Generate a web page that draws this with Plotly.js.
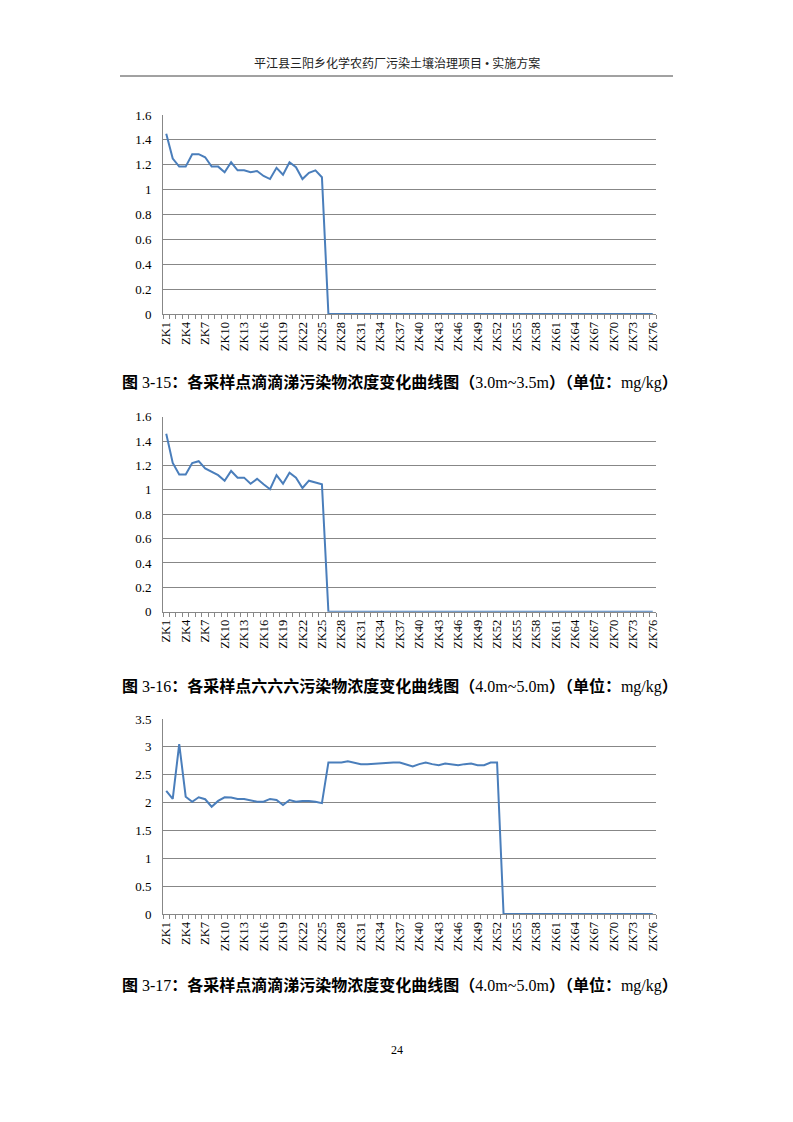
<!DOCTYPE html>
<html>
<head>
<meta charset="utf-8">
<script src="https://cdn.plot.ly/plotly-3.0.1.min.js"></script>
<style>html,body{margin:0;padding:0;background:#fff;}#chart{width:793px;height:1122px;}</style>
</head>
<body>
<div id="chart"></div>
<script>
const categories = ["ZK1","ZK2","ZK3","ZK4","ZK5","ZK6","ZK7","ZK8","ZK9","ZK10",
"ZK11","ZK12","ZK13","ZK14","ZK15","ZK16","ZK17","ZK18","ZK19","ZK20",
"ZK21","ZK22","ZK23","ZK24","ZK25","ZK26","ZK27","ZK28","ZK29","ZK30",
"ZK31","ZK32","ZK33","ZK34","ZK35","ZK36","ZK37","ZK38","ZK39","ZK40",
"ZK41","ZK42","ZK43","ZK44","ZK45","ZK46","ZK47","ZK48","ZK49","ZK50",
"ZK51","ZK52","ZK53","ZK54","ZK55","ZK56","ZK57","ZK58","ZK59","ZK60",
"ZK61","ZK62","ZK63","ZK64","ZK65","ZK66","ZK67","ZK68","ZK69","ZK70",
"ZK71","ZK72","ZK73","ZK74","ZK75","ZK76"];

const tickLabels = ["ZK1","ZK4","ZK7","ZK10","ZK13","ZK16","ZK19","ZK22","ZK25","ZK28",
"ZK31","ZK34","ZK37","ZK40","ZK43","ZK46","ZK49","ZK52","ZK55","ZK58",
"ZK61","ZK64","ZK67","ZK70","ZK73","ZK76"];

// Fig 3-15: DDT 3.0m~3.5m
const ddt_3_0_3_5 = [1.45,1.25,1.185,1.185,1.285,1.285,1.26,1.185,1.185,1.14,
1.22,1.155,1.155,1.14,1.15,1.11,1.085,1.175,1.12,1.22,
1.18,1.085,1.135,1.155,1.10,0,0,0,0,0,
0,0,0,0,0,0,0,0,0,0,
0,0,0,0,0,0,0,0,0,0,
0,0,0,0,0,0,0,0,0,0,
0,0,0,0,0,0,0,0,0,0,
0,0,0,0,0,0];

// Fig 3-16: HCH 4.0m~5.0m
const hch_4_0_5_0 = [1.46,1.22,1.125,1.125,1.22,1.235,1.175,1.145,1.12,1.075,
1.155,1.10,1.10,1.05,1.09,1.045,1.005,1.12,1.05,1.14,
1.10,1.015,1.075,1.06,1.045,0,0,0,0,0,
0,0,0,0,0,0,0,0,0,0,
0,0,0,0,0,0,0,0,0,0,
0,0,0,0,0,0,0,0,0,0,
0,0,0,0,0,0,0,0,0,0,
0,0,0,0,0,0];

// Fig 3-17: DDT 4.0m~5.0m
const ddt_4_0_5_0 = [2.21,2.065,3.05,2.105,2.015,2.095,2.06,1.925,2.03,2.095,
2.09,2.065,2.065,2.045,2.015,2.015,2.065,2.045,1.955,2.045,
2.015,2.03,2.03,2.015,1.99,2.72,2.72,2.72,2.74,2.72,
2.69,2.69,2.70,2.70,2.72,2.72,2.72,2.69,2.65,2.69,
2.72,2.69,2.67,2.70,2.69,2.67,2.69,2.70,2.67,2.67,
2.72,2.72,0,0,0,0,0,0,0,0,
0,0,0,0,0,0,0,0,0,0,
0,0,0,0,0,0];

const yMax = [1.6, 1.6, 3.5];
const yStep = [0.2, 0.2, 0.5];

const headerText = "平江县三阳乡化学农药厂污染土壤治理项目 • 实施方案";
const captions = [
  "图 3-15：各采样点滴滴涕污染物浓度变化曲线图（3.0m~3.5m）（单位：mg/kg）",
  "图 3-16：各采样点六六六污染物浓度变化曲线图（4.0m~5.0m）（单位：mg/kg）",
  "图 3-17：各采样点滴滴涕污染物浓度变化曲线图（4.0m~5.0m）（单位：mg/kg）"
];
const pageNumber = "24";

const W = 793, H = 1122;
const series = [ddt_3_0_3_5, hch_4_0_5_0, ddt_4_0_5_0];
// plot area pixel boxes (top, bottom)
const boxes = [[115, 314], [416.7, 611.7], [719, 914]];
const xL = 163, xR = 656;
const capY = [383, 686, 985];

const ticktext = categories.map(c => tickLabels.includes(c) ? c : "");
const serif = "'Liberation Serif', 'Times New Roman', serif";
const grey = "#878787";

// CJK runs in bold (heiti look), Latin runs in regular serif
function styleCaption(s) {
  return s.replace(/([^\x00-\x7F]+)/g, "<b>$1</b>");
}

const data = [];
const layout = {
  width: W, height: H,
  margin: {l: 0, r: 0, t: 0, b: 0},
  paper_bgcolor: "#ffffff",
  plot_bgcolor: "rgba(0,0,0,0)",
  showlegend: false,
  annotations: [],
  shapes: []
};

series.forEach((vals, i) => {
  const n = i === 0 ? "" : String(i + 1);
  data.push({
    type: "scatter", mode: "lines",
    x: categories, y: vals,
    xaxis: "x" + n, yaxis: "y" + n,
    line: {color: "#4A7EBB", width: 2},
    cliponaxis: false,
    hoverinfo: "skip"
  });
  const [top, bot] = boxes[i];
  layout["xaxis" + n] = {
    anchor: "y" + n,
    domain: [xL / W, xR / W],
    type: "category",
    range: [-0.5, categories.length - 0.5],
    tickmode: "array",
    tickvals: categories,
    ticktext: ticktext,
    tickangle: -90,
    tickson: "boundaries",
    ticks: "outside",
    ticklen: 4,
    tickcolor: grey,
    tickwidth: 1,
    showline: true,
    linecolor: grey,
    linewidth: 1,
    showgrid: false,
    zeroline: false,
    ticklabelstandoff: 2,
    tickfont: {family: serif, size: 12.5, color: "#000"}
  };
  layout["yaxis" + n] = {
    anchor: "x" + n,
    domain: [1 - bot / H, 1 - top / H],
    range: [0, yMax[i]],
    dtick: yStep[i],
    tick0: 0,
    showgrid: true,
    gridcolor: grey,
    gridwidth: 1,
    showline: true,
    linecolor: grey,
    linewidth: 1,
    ticks: "",
    zeroline: false,
    ticklabelstandoff: 8,
    tickfont: {family: serif, size: 13, color: "#000"}
  };
  layout.annotations.push({
    xref: "paper", yref: "paper",
    x: 120 / W, y: 1 - capY[i] / H,
    xanchor: "left", yanchor: "middle",
    showarrow: false,
    text: styleCaption(captions[i]),
    font: {family: "'Liberation Serif', 'Noto Sans CJK SC', serif", size: 16, color: "#000"}
  });
});

layout.annotations.push({
  xref: "paper", yref: "paper",
  x: 0.5, y: 1 - 64 / H,
  xanchor: "center", yanchor: "middle",
  showarrow: false,
  text: headerText,
  font: {family: "'Liberation Serif', 'Noto Sans CJK SC', serif", size: 12, color: "#222"}
});
layout.annotations.push({
  xref: "paper", yref: "paper",
  x: 397 / W, y: 1 - 1050 / H,
  xanchor: "center", yanchor: "middle",
  showarrow: false,
  text: pageNumber,
  font: {family: serif, size: 12, color: "#000"}
});
layout.shapes.push({
  type: "line", xref: "paper", yref: "paper",
  x0: 120 / W, x1: 673 / W, y0: 1 - 76 / H, y1: 1 - 76 / H,
  line: {color: "#444", width: 1}
});

Plotly.newPlot("chart", data, layout, {staticPlot: true, displayModeBar: false});
</script>
</body>
</html>
